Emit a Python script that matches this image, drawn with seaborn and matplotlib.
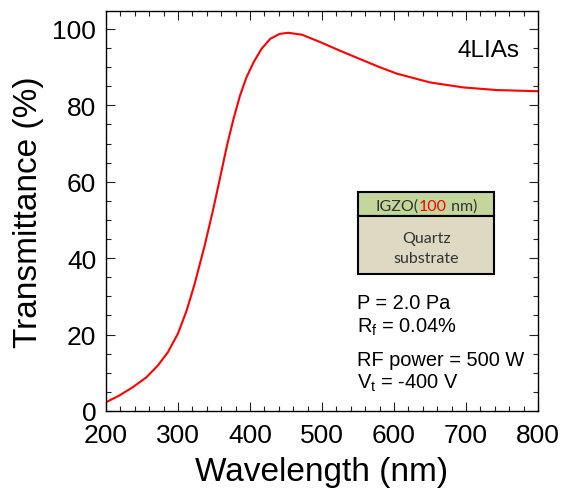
import matplotlib
matplotlib.use("Agg")
import matplotlib.pyplot as plt
from matplotlib.patches import Rectangle
from matplotlib.ticker import MultipleLocator
import seaborn as sns

# transmittance spectrum
wavelength = [200, 218, 237, 256, 272, 286, 300, 312, 323, 337, 349, 358, 368,
              377, 386, 395, 405, 416, 428, 441, 453, 472, 497, 525, 553, 580,
              604, 650, 696, 743, 800]
transmittance = [2.3, 4.0, 6.2, 8.8, 11.9, 15.4, 20.3, 26.3, 33.2, 43.3, 52.9,
                 60.7, 69.5, 76.4, 82.5, 87.3, 91.3, 94.8, 97.4, 98.7, 99.0,
                 98.5, 96.6, 94.3, 92.1, 90.0, 88.3, 86.0, 84.7, 84.0, 83.7]

sample = "4LIAs"
conditions = ["P = 2.0 Pa", "R$_\\mathregular{f}$ = 0.04%",
              "RF power = 500 W", "V$_\\mathregular{t}$ = -400 V"]

sns.set_style("ticks")
plt.rcParams["font.family"] = ["Liberation Sans", "DejaVu Sans"]
plt.rcParams["mathtext.fontset"] = "custom"
plt.rcParams["mathtext.rm"] = "Liberation Sans"
plt.rcParams["mathtext.it"] = "Liberation Sans"
plt.rcParams["text.color"] = "black"
plt.rcParams["axes.labelcolor"] = "black"

fig = plt.figure(figsize=(5.66, 5.02), dpi=100)
ax = fig.add_axes([0.1873, 0.1793, 0.7633, 0.7968])

sns.lineplot(x=wavelength, y=transmittance, color="red", linewidth=1.5, ax=ax)

ax.set_xlim(200, 800)
ax.set_ylim(0, 104.7)
ax.xaxis.set_major_locator(MultipleLocator(100))
ax.xaxis.set_minor_locator(MultipleLocator(20))
ax.yaxis.set_major_locator(MultipleLocator(20))
ax.yaxis.set_minor_locator(MultipleLocator(5))
ax.tick_params(which="both", direction="in", top=True, right=True,
               colors="#222222", labelcolor="black", width=0.8)
ax.tick_params(which="major", length=6.5, labelsize=19)
ax.tick_params(which="minor", length=3.6)
ax.tick_params(axis="x", which="major", pad=9)
ax.tick_params(axis="y", which="major", pad=7)
for s in ax.spines.values():
    s.set_linewidth(1.0)
    s.set_color("black")

ax.set_xlabel("Wavelength (nm)", fontsize=24, labelpad=6)
ax.set_ylabel("Transmittance (%)", fontsize=24, labelpad=6)

ax.text(0.958, 0.8875, sample, transform=ax.transAxes, fontsize=17.5,
        ha="right", va="baseline")

# layer schematic
ax.add_patch(Rectangle((0.583, 0.4875), 0.315, 0.0605, transform=ax.transAxes,
                       facecolor="#c3d69b", edgecolor="black", linewidth=1.5))
ax.add_patch(Rectangle((0.583, 0.3425), 0.315, 0.145, transform=ax.transAxes,
                       facecolor="#ddd9c3", edgecolor="black", linewidth=1.5))
box_font = ["Lato", "DejaVu Sans"]
bfs = 11.5
t1 = ax.text(0.624, 0.5025, "IGZO(", transform=ax.transAxes, fontsize=bfs,
             family=box_font, color="#333333", va="baseline")
t2 = ax.annotate("100", xy=(1, 0), xycoords=t1, fontsize=bfs, family=box_font,
                 color="red", va="bottom")
ax.annotate(" nm)", xy=(1, 0), xycoords=t2, fontsize=bfs, family=box_font,
            color="#333333", va="bottom")
ax.text(0.741, 0.4225, "Quartz", transform=ax.transAxes, fontsize=bfs,
        family=box_font, color="#333333", ha="center", va="baseline")
ax.text(0.741, 0.373, "substrate", transform=ax.transAxes, fontsize=bfs,
        family=box_font, color="#333333", ha="center", va="baseline")

for txt, yy in zip(conditions, [0.2575, 0.198, 0.116, 0.057]):
    ax.text(0.582, yy, txt, transform=ax.transAxes, fontsize=14.4,
            ha="left", va="baseline")

fig.savefig("out.png", dpi=100)
